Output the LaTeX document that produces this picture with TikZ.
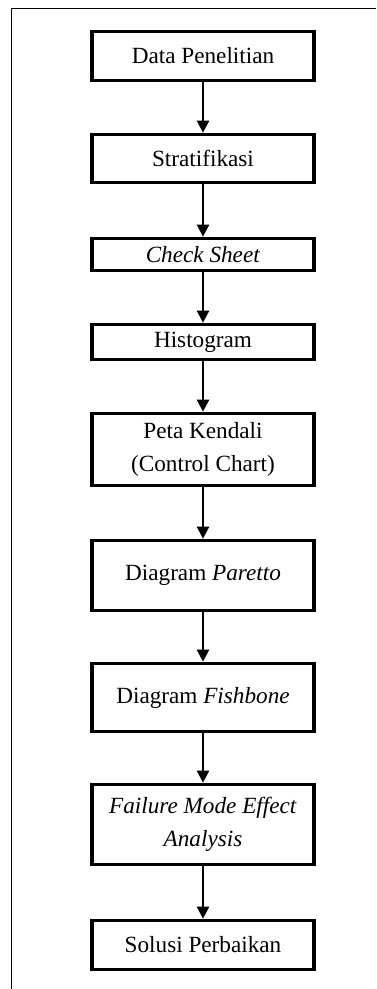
\documentclass[tikz,border=0pt]{standalone}
\usepackage{fontspec}
\setmainfont{Liberation Serif}
\usepackage{tikz}
\usetikzlibrary{arrows.meta}

\begin{document}
\begin{tikzpicture}[x=0.025cm, y=-0.025cm,
    stepbox/.style={draw, line width=2.6pt, minimum width=5.55cm, inner sep=2pt,
      align=center, font=\fontsize{16.5}{23.7}\selectfont},
    flow/.style={-{Triangle[length=8.5pt, width=8.5pt]}, line width=1.7pt}]
        \useasboundingbox (0,0) rectangle (376,989);

        % Outer frame (cut at right and bottom)
        \draw[line width=1.4pt] (11.5,989) -- (11.5,8.5) -- (376,8.5);

        % Steps
        \node[stepbox, minimum height=1.225cm] (data) at (203,56) {Data Penelitian};
        \node[stepbox, minimum height=1.2cm] (strat) at (203,158.5) {Stratifikasi};
        \node[stepbox, minimum height=0.8cm] (check) at (203,254.5) {\textit{Check Sheet}};
        \node[stepbox, minimum height=0.875cm] (histo) at (203,342) {Histogram};
        \node[stepbox, minimum height=1.8cm] (peta) at (203,449.5) {Peta Kendali\\(Control Chart)};
        \node[stepbox, minimum height=1.75cm] (pareto) at (203,575.5) {Diagram \textit{Paretto}};
        \node[stepbox, minimum height=1.7cm] (fish) at (203,697.5) {Diagram \textit{Fishbone}};
        \node[stepbox, minimum height=2cm] (fmea) at (203,824.5) {\textit{Failure Mode Effect}\\\textit{Analysis}};
        \node[stepbox, minimum height=1.225cm] (solusi) at (203,945) {Solusi Perbaikan};

        % Arrows between steps
        \draw[flow] (data) -- (strat);
        \draw[flow] (strat) -- (check);
        \draw[flow] (check) -- (histo);
        \draw[flow] (histo) -- (peta);
        \draw[flow] (peta) -- (pareto);
        \draw[flow] (pareto) -- (fish);
        \draw[flow] (fish) -- (fmea);
        \draw[flow] (fmea) -- (solusi);
\end{tikzpicture}
\end{document}
